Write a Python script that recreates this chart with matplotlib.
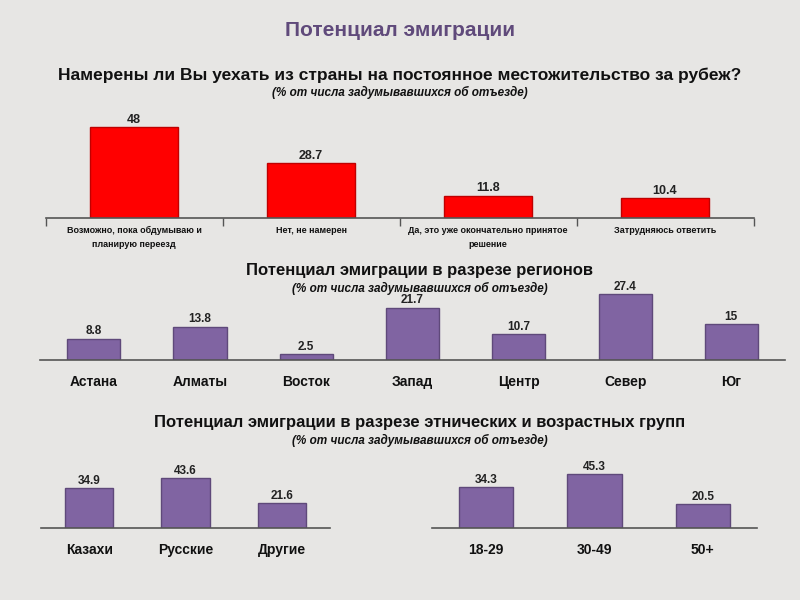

# -------------------------------------------------------------
# EMIGRATION POTENTIAL - bar charts
# -------------------------------------------------------------

import matplotlib
matplotlib.use('Agg')
import matplotlib.pyplot as plt


# Data
intentLabels = ['Возможно, пока обдумываю и\nпланирую переезд', 'Нет, не намерен',
                'Да, это уже окончательно принятое\nрешение', 'Затрудняюсь ответить']
intentValues = [48, 28.7, 11.8, 10.4]

regionLabels = ['Астана', 'Алматы', 'Восток', 'Запад', 'Центр', 'Север', 'Юг']
regionValues = [8.8, 13.8, 2.5, 21.7, 10.7, 27.4, 15]

ethnicLabels = ['Казахи', 'Русские', 'Другие']
ethnicValues = [34.9, 43.6, 21.6]

ageLabels = ['18-29', '30-49', '50+']
ageValues = [34.3, 45.3, 20.5]


# Styles
W, H = 800, 600
bgColor = '#e7e6e4'
red = '#ff0000'
redEdge = '#c00000'
purple = '#8064a2'
purpleEdge = '#5f497a'
fontList = ['Liberation Sans Narrow', 'Liberation Sans', 'DejaVu Sans']
plt.rcParams['font.family'] = fontList


# Axes placement in pixels: left, right, baseline y, pixels per unit, ymax
def addAxes(fig, left, right, base, ppu, ymax):
    h = ppu * ymax
    axes = fig.add_axes([left / W, (H - base) / H, (right - left) / W, h / H])
    axes.set_ylim(0, ymax)
    axes.patch.set_alpha(0)
    for s in ['top', 'right', 'left']:
        axes.spines[s].set_visible(False)
    axes.spines['bottom'].set_color('#555555')
    axes.spines['bottom'].set_linewidth(1.2)
    axes.set_yticks([])
    return axes


def drawBars(axes, labels, values, color, edge, labelSize, valueSize, pad, boundaryTicks=False):
    x = list(range(len(values)))
    axes.bar(x, values, width=0.5, color=color, edgecolor=edge, linewidth=1.0)
    axes.set_xlim(-0.5, len(values) - 0.5)
    axes.set_xticks(x)
    axes.set_xticklabels(labels, fontsize=labelSize, fontweight='bold', color='#111111',
                         linespacing=1.7)
    axes.tick_params(axis='x', which='major', length=0, pad=pad)
    if boundaryTicks:
        axes.set_xticks([i - 0.5 for i in range(len(values) + 1)], minor=True)
        axes.tick_params(axis='x', which='minor', length=6, color='#555555', width=1.0)
    for xi, v in zip(x, values):
        axes.text(xi, v + 0.6, ('%g' % v), ha='center', va='bottom', fontsize=valueSize,
                  fontweight='bold', color='#222222')


fig = plt.figure(figsize=(8, 6), dpi=100)
fig.patch.set_facecolor(bgColor)


# Titles
fig.text(400 / W, 1 - 30 / H, 'Потенциал эмиграции', ha='center', va='center',
         fontsize=15, fontweight='bold', color='#604a7b', family=['Liberation Sans', 'DejaVu Sans'])
fig.text(400 / W, 1 - 75 / H, 'Намерены ли Вы уехать из страны на постоянное местожительство за рубеж?',
         ha='center', va='center', fontsize=12.5, fontweight='bold', color='#111111')
fig.text(400 / W, 1 - 92 / H, '(% от числа задумывавшихся об отъезде)', ha='center', va='center',
         fontsize=8.5, fontweight='bold', style='italic', color='#111111')

fig.text(420 / W, 1 - 270 / H, 'Потенциал эмиграции в разрезе регионов', ha='center', va='center',
         fontsize=12, fontweight='bold', color='#111111')
fig.text(420 / W, 1 - 288 / H, '(% от числа задумывавшихся об отъезде)', ha='center', va='center',
         fontsize=8.5, fontweight='bold', style='italic', color='#111111')

fig.text(420 / W, 1 - 423 / H, 'Потенциал эмиграции в разрезе этнических и возрастных групп',
         ha='center', va='center', fontsize=12, fontweight='bold', color='#111111')
fig.text(420 / W, 1 - 440 / H, '(% от числа задумывавшихся об отъезде)', ha='center', va='center',
         fontsize=8.5, fontweight='bold', style='italic', color='#111111')


# Chart 1: intentions
ax1 = addAxes(fig, 45.5, 753.5, 218, 1.9, 55)
drawBars(ax1, intentLabels, intentValues, red, redEdge, 6.5, 9, 6, boundaryTicks=True)

# Chart 2: regions
ax2 = addAxes(fig, 40.5, 784.5, 360, 2.4, 30)
drawBars(ax2, regionLabels, regionValues, purple, purpleEdge, 10, 8.5, 11)

# Chart 3: ethnic groups
ax3 = addAxes(fig, 41, 330, 528, 1.15, 50)
drawBars(ax3, ethnicLabels, ethnicValues, purple, purpleEdge, 10, 8.5, 11)

# Chart 4: age groups
ax4 = addAxes(fig, 432, 757, 528, 1.19, 50)
drawBars(ax4, ageLabels, ageValues, purple, purpleEdge, 10, 8.5, 11)


fig.savefig('out.png', dpi=100, facecolor=bgColor)
